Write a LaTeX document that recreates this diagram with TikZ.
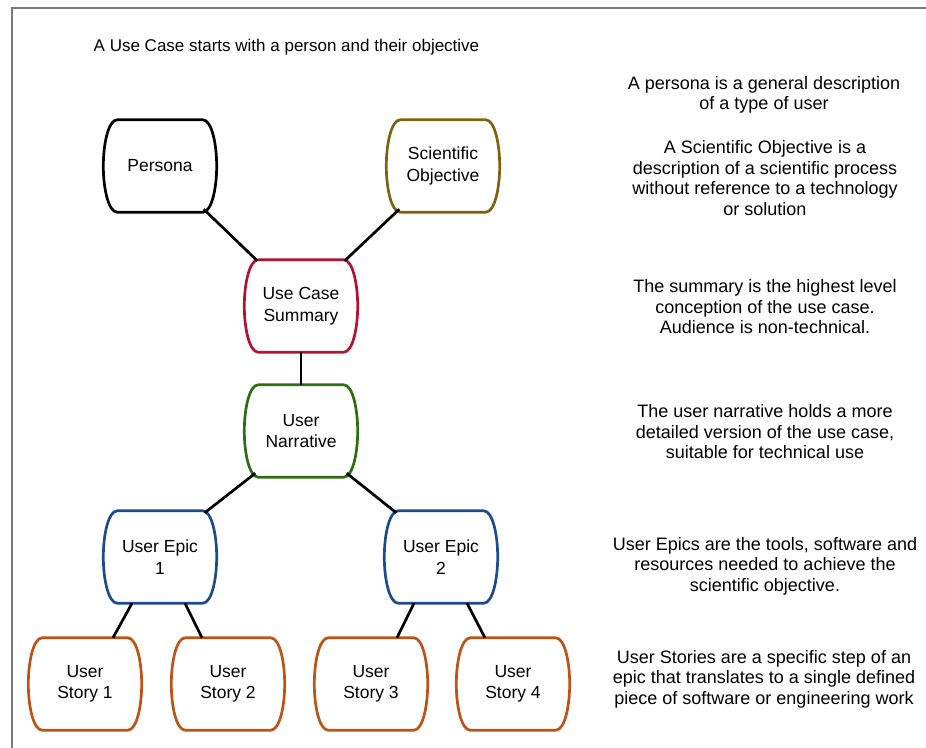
\documentclass[tikz,border=0pt]{standalone}
\usepackage{fontspec}
\setmainfont{Liberation Sans}
\usetikzlibrary{calc}

\definecolor{frameGray}{HTML}{7A7A7A}
\definecolor{objBrown}{HTML}{7F6210}
\definecolor{sumRed}{HTML}{B3132F}
\definecolor{narGreen}{HTML}{2E6E10}
\definecolor{epicBlue}{HTML}{1B4C8E}
\definecolor{storyOrange}{HTML}{BE5316}

\tikzset{
  txt/.style={align=center, inner sep=0pt},
  heading/.style={txt, font=\fontsize{17}{20}\selectfont},
  note/.style={txt, font=\fontsize{18}{20.5}\selectfont},
  blob/.style={txt, font=\fontsize{17.5}{21.5}\selectfont, minimum width=113pt, minimum height=92pt},
  outline/.style={line width=2.7pt, line join=round},
  link/.style={line width=2.7pt, black},
}

% bulging rounded box drawn around a named node: #1 node name, #2 colour
\newcommand{\blobframe}[2]{%
  \draw[outline, #2]
    ([xshift=14pt]#1.north west) -- ([xshift=-14pt]#1.north east)
    .. controls ([xshift=-5pt]#1.north east) and ([yshift=-24pt]#1.north east) .. (#1.east)
    .. controls ([yshift=24pt]#1.south east) and ([xshift=-5pt]#1.south east) .. ([xshift=-14pt]#1.south east)
    -- ([xshift=14pt]#1.south west)
    .. controls ([xshift=5pt]#1.south west) and ([yshift=24pt]#1.south west) .. (#1.west)
    .. controls ([yshift=-24pt]#1.north west) and ([xshift=5pt]#1.north west) .. cycle;}

\begin{document}
\begin{tikzpicture}[x=1pt, y=-1pt]
\useasboundingbox (0,0) rectangle (926,747);

% page frame (only its top and left edges fall inside the view)
\draw[frameGray, line width=1.6pt] (12,760) -- (12,8) -- (940,8);

% heading
\node[heading] (title) at (286.5,47) {A Use Case starts with a person and their objective};

% boxes
\node[blob] (persona) at (160,166) {Persona};
\node[blob] (sciobj)  at (443,166) {Scientific\\Objective};
\node[blob] (summary) at (301,306) {Use Case\\Summary};
\node[blob] (narr)    at (301,431) {User\\Narrative};
\node[blob] (epic1)   at (160,557) {User Epic\\1};
\node[blob] (epic2)   at (441,557) {User Epic\\2};
\node[blob] (story1)  at (85,684)  {User\\Story 1};
\node[blob] (story2)  at (228,684) {User\\Story 2};
\node[blob] (story3)  at (371,684) {User\\Story 3};
\node[blob] (story4)  at (513,684) {User\\Story 4};

\blobframe{persona}{black}
\blobframe{sciobj}{objBrown}
\blobframe{summary}{sumRed}
\blobframe{narr}{narGreen}
\blobframe{epic1}{epicBlue}
\blobframe{epic2}{epicBlue}
\blobframe{story1}{storyOrange}
\blobframe{story2}{storyOrange}
\blobframe{story3}{storyOrange}
\blobframe{story4}{storyOrange}

% connectors
\draw[link] ([xshift=-13pt,yshift=3pt]persona.south east) -- ([xshift=13pt,yshift=-1pt]summary.north west);
\draw[link] ([xshift=13pt,yshift=3pt]sciobj.south west) -- ([xshift=-13pt,yshift=-1pt]summary.north east);
\draw[link] (summary.south) -- (narr.north);
\draw[link] ([xshift=11pt,yshift=4pt]narr.south west) -- ([xshift=-12pt,yshift=-2pt]epic1.north east);
\draw[link] ([xshift=-11pt,yshift=4pt]narr.south east) -- ([xshift=12pt,yshift=-2pt]epic2.north west);
\draw[link] ([xshift=-28pt]epic1.south) -- ([xshift=28pt]story1.north);
\draw[link] ([xshift=25pt]epic1.south) -- ([xshift=-26pt]story2.north);
\draw[link] ([xshift=-27pt]epic2.south) -- ([xshift=26pt]story3.north);
\draw[link] ([xshift=26pt]epic2.south) -- ([xshift=-28pt]story4.north);

% explanations
\node[note] (noteA) at (764,95)  {A persona is a general description\\of a type of user};
\node[note] (noteB) at (765,178) {A Scientific Objective is a\\description of a scientific process\\without reference to a technology\\or solution};
\node[note] (noteC) at (765,307) {The summary is the highest level\\conception of the use case.\\Audience is non-technical.};
\node[note] (noteD) at (765,432) {The user narrative holds a more\\detailed version of the use case,\\suitable for technical use};
\node[note] (noteE) at (765,566) {User Epics are the tools, software and\\resources needed to achieve the\\scientific objective.};
\node[note] (noteF) at (764,679) {User Stories are a specific step of an\\epic that translates to a single defined\\piece of software or engineering work};
\end{tikzpicture}
\end{document}
